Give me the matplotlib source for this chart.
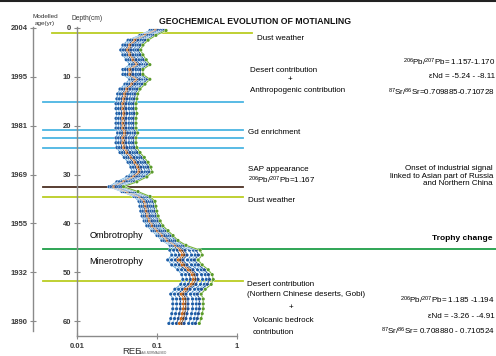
"""
Geochemical evolution of the Motianling peat core: REE profiles vs depth/age
"""

import numpy as np
import matplotlib
matplotlib.use('Agg')
import matplotlib.pyplot as plt
import matplotlib.transforms as mtransforms
import matplotlib.patheffects as pe
from matplotlib.lines import Line2D

plt.rcParams['font.family'] = ['Liberation Sans', 'DejaVu Sans']
plt.rcParams['mathtext.fontset'] = 'custom'
plt.rcParams['mathtext.rm'] = 'Liberation Sans'
plt.rcParams['mathtext.it'] = 'Liberation Sans:italic'
plt.rcParams['mathtext.bf'] = 'Liberation Sans:bold'

##############################################################
##                          data                            ##
##############################################################

# 1 cm slices
depth = np.arange(0.5, 61.0, 1.0)

# median PAAS-normalised REE of each slice
ree_center = np.array([
    0.103, 0.077, 0.058, 0.050, 0.047, 0.050, 0.055, 0.061, 0.050, 0.050,
    0.061, 0.053, 0.046, 0.043, 0.042, 0.041, 0.041, 0.042, 0.041, 0.041,
    0.041, 0.043, 0.041, 0.041, 0.042, 0.046, 0.052, 0.058, 0.063, 0.065,
    0.056, 0.042, 0.031, 0.046, 0.065, 0.075, 0.077, 0.079, 0.082, 0.087,
    0.094, 0.109, 0.126, 0.145, 0.183, 0.224, 0.237, 0.211, 0.237, 0.282,
    0.316, 0.326, 0.307, 0.259, 0.230, 0.244, 0.244, 0.244, 0.237, 0.230,
    0.218])

# half spread of the element curves around the median [log10 units]
ree_spread = np.array([0.10] * 2 + [0.125] * 30 + [0.09] + [0.10] * 12 + [0.19] * 16)

# elements: position inside the spread (-1 = lowest, 1 = highest)
elements = ['La', 'Nd', 'Pr', 'Ce', 'Eu', 'Sm', 'Gd', 'Dy', 'Er', 'Yb']
element_pos = [-1.0, -0.75, -0.5, -0.3, -0.15, 0.0, 0.3, 0.55, 0.75, 1.0]
element_colors = ['#62a9dd', '#7cb8e6', '#1d4f91', '#ea7a1c', '#6b3d1f',
                  '#2b6cb5', '#4a8fd0', '#8cc4ec', '#1f5fa8', '#74b43c']
marker_colors = ['#1f5fa8', '#1f5fa8', '#1d4f91', '#c8600e', '#6b3d1f',
                 '#1f4f95', '#1f5fa8', '#1f5fa8', '#1f4f95', '#5a9a2a']

# depth ticks and modelled ages
depth_ticks = [0, 10, 20, 30, 40, 50, 60]
age_labels = ['2004', '1995', '1981', '1969', '1955', '1932', '1890']

# event horizons [cm]
event_depth = [1.0, 15.1, 20.9, 22.5, 24.5, 32.6, 34.6, 45.3, 51.8]
event_color = ['#bacd22', '#4bb5e3', '#4bb5e3', '#4bb5e3', '#4bb5e3',
               '#4b2f22', '#bacd22', '#1f9e48', '#bacd22']

##############################################################
##                        figure                            ##
##############################################################

W, H = 496, 356
fig = plt.figure(figsize=(W / 100, H / 100), dpi=100)


def fx(x):
    return x / W


def fy(y):
    return 1 - y / H


px_per_cm = (321 - 28) / 60.


def depth_at(y):
    return (y - 28) / px_per_cm


axis_color = '#8a8a8a'
tick_color = '#3a3a3a'

# REE axes
ax = fig.add_axes([fx(77), fy(336), fx(237) - fx(77), fy(27) - fy(336)])
ax.set_xscale('log')
ax.set_xlim(0.01, 1)
ax.set_ylim(depth_at(336), depth_at(27))
ax.patch.set_visible(False)
for border in ['top', 'right']:
    ax.spines[border].set_visible(False)
for border in ['left', 'bottom']:
    ax.spines[border].set_color(axis_color)
    ax.spines[border].set_linewidth(1.0)
ax.set_xticks([0.01, 0.1, 1])
ax.set_xticklabels(['0.01', '0.1', '1'])
ax.xaxis.set_minor_locator(matplotlib.ticker.NullLocator())
ax.set_yticks(depth_ticks)
ax.set_yticklabels([str(d) for d in depth_ticks])
ax.tick_params(axis='both', direction='inout', length=4, width=0.8,
               color=axis_color, labelsize=5.5, labelcolor=tick_color)
ax.tick_params(axis='x', pad=3)
ax.tick_params(axis='y', pad=2)
for lab in ax.get_xticklabels() + ax.get_yticklabels():
    lab.set_fontweight('bold')

# modelled age axis
ax_age = fig.add_axes([fx(33), fy(331), 0.002, fy(27) - fy(331)])
ax_age.set_ylim(depth_at(331), depth_at(27))
ax_age.patch.set_visible(False)
ax_age.set_xticks([])
for border in ['top', 'right', 'bottom']:
    ax_age.spines[border].set_visible(False)
ax_age.spines['left'].set_color(axis_color)
ax_age.spines['left'].set_linewidth(1.0)
ax_age.set_yticks(depth_ticks)
ax_age.set_yticklabels(age_labels)
ax_age.tick_params(axis='y', direction='inout', length=4, width=0.8,
                   color=axis_color, labelsize=5.5, labelcolor=tick_color, pad=2)
for lab in ax_age.get_yticklabels():
    lab.set_fontweight('bold')

# event horizons, drawn across the figure
trans = mtransforms.blended_transform_factory(fig.transFigure, ax.transData)
for i, (d, c) in enumerate(zip(event_depth, event_color)):
    x0, x1 = 43, 243
    if i == 0:
        x0, x1 = 52, 252
    if i == 7:
        x1 = 496
    ax.plot([fx(x0), fx(x1)], [d, d], color=c, linewidth=1.3,
            transform=trans, clip_on=False, zorder=1)

# REE profiles
for name, pos, col, mcol in zip(elements, element_pos, element_colors, marker_colors):
    vals = ree_center * 10 ** (pos * ree_spread)
    ax.plot(vals, depth, color=col, linewidth=0.8, marker='o', markersize=1.3,
            markerfacecolor=mcol, markeredgecolor=mcol, zorder=3,
            path_effects=[pe.Stroke(linewidth=1.4, foreground='white'), pe.Normal()])

# top border
fig.add_artist(Line2D([0, 1], [fy(1), fy(1)], color='#222222', linewidth=1.5,
                      transform=fig.transFigure))

##############################################################
##                        labels                            ##
##############################################################

fs = 5.8
fig.text(fx(159), fy(21), 'GEOCHEMICAL EVOLUTION OF MOTIANLING', fontsize=6.3,
         weight='bold', va='center', ha='left', color='#111111')
fig.text(fx(45), fy(17), 'Modelled', fontsize=4.6, ha='center', va='center', color='#333333')
fig.text(fx(45), fy(23.5), 'age(yr)', fontsize=4.6, ha='center', va='center', color='#333333')
fig.text(fx(87), fy(19), 'Depth(cm)', fontsize=4.8, ha='center', va='center', color='#333333')

fig.text(fx(122), fy(351), 'REE', fontsize=6.8, ha='left', va='center', color='#333333')
fig.text(fx(139), fy(353), 'PAAS-NORMALISED', fontsize=2.2, ha='left', va='center', color='#555555')

fig.text(fx(257), fy(38), 'Dust weather', fontsize=fs, va='center')
fig.text(fx(250), fy(70), 'Desert contribution', fontsize=fs, va='center')
fig.text(fx(290), fy(80), '+', fontsize=fs, va='center', ha='center')
fig.text(fx(250), fy(91), 'Anthropogenic contribution', fontsize=fs, va='center')

fig.text(fx(495), fy(62), r'$^{206}$Pb/$^{207}$Pb= 1.157-1.170', fontsize=fs, ha='right', va='center')
fig.text(fx(495), fy(77), 'εNd = -5.24 - -8.11', fontsize=fs, ha='right', va='center')
fig.text(fx(495), fy(92), r'$^{87}$Sr/$^{86}$Sr=0.709885-0.710728', fontsize=fs, ha='right', va='center')

fig.text(fx(248), fy(132), 'Gd enrichment', fontsize=fs, va='center')
fig.text(fx(248), fy(170), 'SAP appearance', fontsize=fs, va='center')
fig.text(fx(248), fy(180), r'$^{206}$Pb/$^{207}$Pb=1.167', fontsize=fs, va='center')
fig.text(fx(248), fy(201), 'Dust weather', fontsize=fs, va='center')

fig.text(fx(493), fy(176), 'Onset of industrial signal\nlinked to Asian part of Russia\nand Northern China',
         fontsize=fs, ha='right', va='center', multialignment='right', linespacing=1.15)
fig.text(fx(492), fy(238), 'Trophy change', fontsize=6.0, weight='bold', ha='right', va='center')

fig.text(fx(90), fy(236), 'Ombrotrophy', fontsize=6.6, va='center')
fig.text(fx(89), fy(261), 'Minerotrophy', fontsize=6.6, va='center')

fig.text(fx(247), fy(284), 'Desert contribution', fontsize=fs, va='center')
fig.text(fx(247), fy(295), '(Northern Chinese deserts, Gobi)', fontsize=fs, va='center')
fig.text(fx(291), fy(308), '+', fontsize=fs, va='center', ha='center')
fig.text(fx(253), fy(321), 'Volcanic bedrock', fontsize=fs, va='center')
fig.text(fx(253), fy(332), 'contribution', fontsize=fs, va='center')

fig.text(fx(495), fy(300), r'$^{206}$Pb/$^{207}$Pb= 1.185 -1.194', fontsize=fs, ha='right', va='center')
fig.text(fx(495), fy(316), 'εNd = -3.26 - -4.91', fontsize=fs, ha='right', va='center')
fig.text(fx(495), fy(331), r'$^{87}$Sr/$^{86}$Sr= 0.708880 - 0.710524', fontsize=fs, ha='right', va='center')

fig.savefig('out.png', dpi=100)
